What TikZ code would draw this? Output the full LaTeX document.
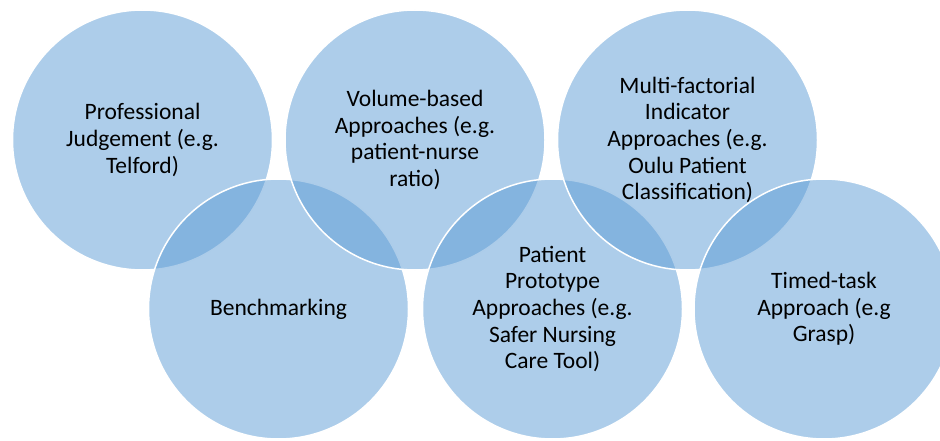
\documentclass[tikz,border=0pt]{standalone}
\usepackage{fontspec}
\setmainfont{Carlito}
\definecolor{bubblecol}{HTML}{5B9BD5}
\tikzset{
  bubble/.style={circle, minimum size=260pt, inner sep=0pt, fill=bubblecol, fill opacity=0.5,
    draw=white, draw opacity=1, line width=1.5pt, text opacity=1, text=black,
    align=center, font=\fontsize{23.5}{26.7}\selectfont}
}

\begin{document}
\begin{tikzpicture}[x=1pt,y=1pt]
\useasboundingbox (0,0) rectangle (940,440);

\node [bubble] (prof) at (142.5, 300) {Professional\\Judgement (e.g.\\Telford)};
\node [bubble] (bench) at (278.5, 131) {Benchmarking};
\node [bubble] (volume) at (415, 300) {Volume-based\\Approaches (e.g.\\patient-nurse\\ratio)};
\node [bubble] (proto) at (552.5, 131) {Patient\\Prototype\\Approaches (e.g.\\Safer Nursing\\Care Tool)};
\node [bubble] (multi) at (687.5, 300) {Multi-factorial\\Indicator\\Approaches (e.g.\\Oulu Patient\\Classification)};
\node [bubble] (timed) at (824, 131) {Timed-task\\Approach (e.g\\Grasp)};

\end{tikzpicture}
\end{document}
